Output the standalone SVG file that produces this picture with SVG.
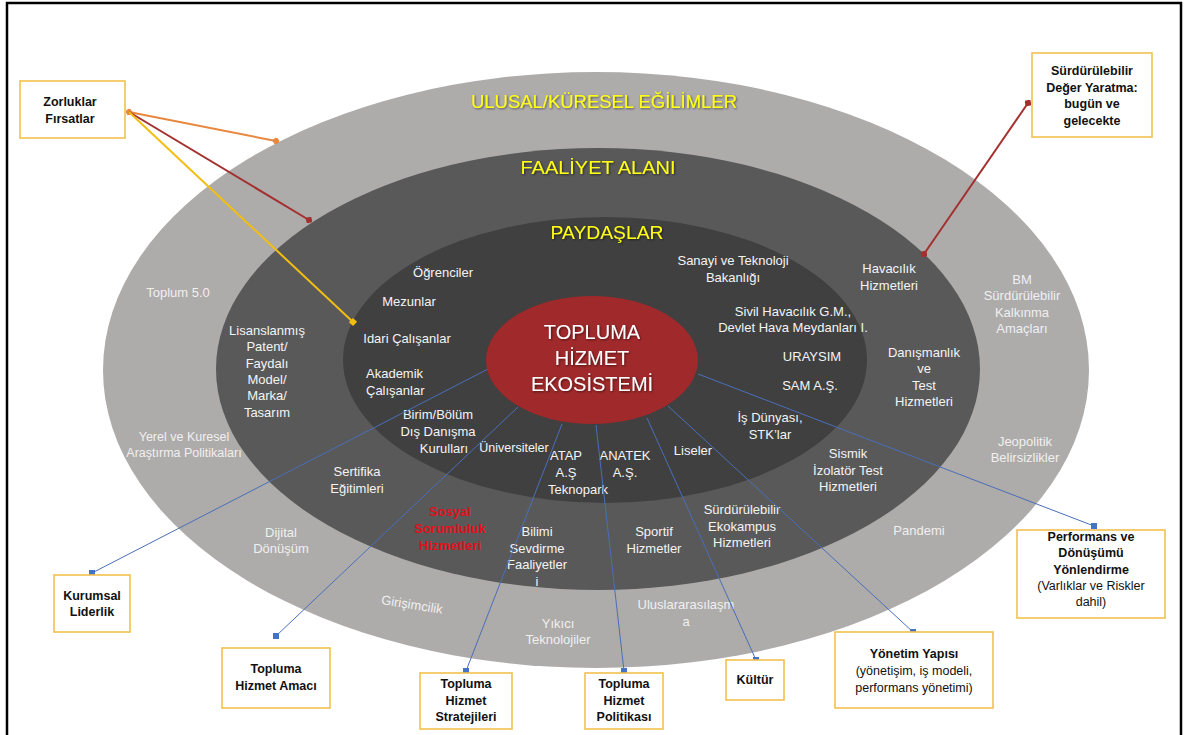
<svg xmlns="http://www.w3.org/2000/svg" width="1187" height="735" viewBox="0 0 1187 735">
<defs>
<style>
text{font-family:"Liberation Sans",Arial,sans-serif}
.lbl{font-size:13px;fill:#F4F4F4;text-anchor:middle}
.outl{font-size:13px;fill:#F0F0F0;text-anchor:middle}
.red{font-size:13px;fill:#E0101C;text-anchor:middle;font-weight:bold}
.ttl{font-size:19px;fill:#FFFF14;text-anchor:middle;filter:url(#sh)}
.ctr{font-size:20px;fill:#FFFFFF;text-anchor:middle;filter:url(#sh)}
.box{fill:#FFFFFF;stroke:#F2C14E;stroke-width:1.6}
.bt{font-size:12.5px;font-weight:bold;fill:#111111;text-anchor:middle}
.bn{font-size:12.5px;font-weight:normal;fill:#111111;text-anchor:middle}
.blue{stroke:#4A6FB8;stroke-width:1;fill:none;marker-end:url(#sqb)}
</style>
<filter id="sh" x="-10%" y="-30%" width="120%" height="160%">
<feDropShadow dx="1" dy="1" stdDeviation="0.8" flood-color="#000000" flood-opacity="0.55"/>
</filter>
<marker id="sqb" viewBox="0 0 6 6" refX="3" refY="3" markerWidth="6" markerHeight="6" markerUnits="userSpaceOnUse">
<rect x="0" y="0" width="6" height="6" fill="#4472C4"/>
</marker>
<marker id="dOr" viewBox="0 0 6 6" refX="3" refY="3" markerWidth="7" markerHeight="7" orient="auto" markerUnits="userSpaceOnUse">
<rect x="0.5" y="0.5" width="5" height="5" fill="#E8873E" transform="rotate(45 3 3)"/>
</marker>
<marker id="dRd" viewBox="0 0 6 6" refX="3" refY="3" markerWidth="7" markerHeight="7" orient="auto" markerUnits="userSpaceOnUse">
<rect x="0.5" y="0.5" width="5" height="5" fill="#A3302F" transform="rotate(45 3 3)"/>
</marker>
<marker id="dYl" viewBox="0 0 6 6" refX="3" refY="3" markerWidth="7" markerHeight="7" orient="auto" markerUnits="userSpaceOnUse">
<rect x="0.5" y="0.5" width="5" height="5" fill="#F2BE12"/>
</marker>
</defs>

<rect x="0" y="0" width="1187" height="735" fill="#FFFFFF"/>
<path d="M7,735 V3 H1181 V735" fill="none" stroke="#000000" stroke-width="2.5"/>

<g id="ring-outer">
<ellipse cx="596" cy="370" rx="493" ry="298" fill="#AEABAB"/>
<text class="ttl" x="604" y="108" textLength="266" lengthAdjust="spacingAndGlyphs">ULUSAL/KÜRESEL EĞİLİMLER</text>
<text class="outl" x="178" y="297">Toplum 5.0</text>
<text class="outl" x="184" y="441" style="font-size:12.5px"><tspan x="184">Yerel ve Kuresel</tspan><tspan x="184" dy="16">Araştırma Politikaları</tspan></text>
<text class="outl" x="281" y="537"><tspan x="281">Dijital</tspan><tspan x="281" dy="16">Dönüşüm</tspan></text>
<text class="outl" x="412" y="609" transform="rotate(9 412 605)">Girişimcilik</text>
<text class="outl" x="558" y="628"><tspan x="558">Yıkıcı</tspan><tspan x="558" dy="16">Teknolojiler</tspan></text>
<text class="outl" x="686" y="609"><tspan x="686">Uluslararasılaşm</tspan><tspan x="686" dy="17">a</tspan></text>
<text class="outl" x="919" y="535">Pandemi</text>
<text class="outl" x="1025" y="446"><tspan x="1025">Jeopolitik</tspan><tspan x="1025" dy="16">Belirsizlikler</tspan></text>
<text class="outl" x="1022" y="284"><tspan x="1022">BM</tspan><tspan x="1022" dy="16.3">Sürdürülebilir</tspan><tspan x="1022" dy="16.3">Kalkınma</tspan><tspan x="1022" dy="16.3">Amaçları</tspan></text>
</g>

<g id="ring-middle">
<ellipse cx="598" cy="369" rx="382" ry="221" fill="#595959"/>
<text class="ttl" x="598" y="174" textLength="155" lengthAdjust="spacingAndGlyphs">FAALİYET ALANI</text>
<text class="lbl" x="267" y="335"><tspan x="267">Lisanslanmış</tspan><tspan x="267" dy="16.3">Patent/</tspan><tspan x="267" dy="16.3">Faydalı</tspan><tspan x="267" dy="16.3">Model/</tspan><tspan x="267" dy="16.3">Marka/</tspan><tspan x="267" dy="16.3">Tasarım</tspan></text>
<text class="lbl" x="357" y="476"><tspan x="357">Sertifika</tspan><tspan x="357" dy="17">Eğitimleri</tspan></text>
<text class="red" x="450" y="516"><tspan x="450">Sosyal</tspan><tspan x="450" dy="17">Sorumluluk</tspan><tspan x="450" dy="17">Hizmetleri</tspan></text>
<text class="lbl" x="537" y="536"><tspan x="537">Bilimi</tspan><tspan x="537" dy="16.7">Sevdirme</tspan><tspan x="537" dy="16.7">Faaliyetler</tspan><tspan x="537" dy="16.7">i</tspan></text>
<text class="lbl" x="654" y="536"><tspan x="654">Sportif</tspan><tspan x="654" dy="17">Hizmetler</tspan></text>
<text class="lbl" x="742" y="514"><tspan x="742">Sürdürülebilir</tspan><tspan x="742" dy="16.5">Ekokampus</tspan><tspan x="742" dy="16.5">Hizmetleri</tspan></text>
<text class="lbl" x="848" y="458"><tspan x="848">Sismik</tspan><tspan x="848" dy="16.5">İzolatör Test</tspan><tspan x="848" dy="16.5">Hizmetleri</tspan></text>
<text class="lbl" x="924" y="357"><tspan x="924">Danışmanlık</tspan><tspan x="924" dy="16.3">ve</tspan><tspan x="924" dy="16.3">Test</tspan><tspan x="924" dy="16.3">Hizmetleri</tspan></text>
<text class="lbl" x="889" y="273"><tspan x="889">Havacılık</tspan><tspan x="889" dy="17">Hizmetleri</tspan></text>
</g>

<g id="ring-inner">
<ellipse cx="605" cy="360" rx="262" ry="143" fill="#404040"/>
<text class="ttl" x="607" y="239" textLength="113" lengthAdjust="spacingAndGlyphs">PAYDAŞLAR</text>
<text class="lbl" x="443" y="277">Öğrenciler</text>
<text class="lbl" x="409" y="306">Mezunlar</text>
<text class="lbl" x="407" y="343">Idari Çalışanlar</text>
<text class="lbl" x="366" y="378" style="text-anchor:start"><tspan x="366">Akademik</tspan><tspan x="366" dy="17">Çalışanlar</tspan></text>
<text class="lbl" x="438" y="419"><tspan x="438">Birim/Bölüm</tspan><tspan x="438" dy="17">Dış Danışma</tspan><tspan x="444" dy="17">Kurulları</tspan></text>
<text class="lbl" x="514" y="452" style="font-size:12.5px">Üniversiteler</text>
<text class="lbl" x="566" y="460"><tspan x="566">ATAP</tspan><tspan x="566" dy="17">A.Ş</tspan><tspan x="578" dy="17">Teknopark</tspan></text>
<text class="lbl" x="625" y="460"><tspan x="625">ANATEK</tspan><tspan x="625" dy="17">A.Ş.</tspan></text>
<text class="lbl" x="693" y="455">Liseler</text>
<text class="lbl" x="770" y="422"><tspan x="770">İş Dünyası,</tspan><tspan x="770" dy="17">STK’lar</tspan></text>
<text class="lbl" x="733" y="265"><tspan x="733">Sanayi ve Teknoloji</tspan><tspan x="733" dy="17">Bakanlığı</tspan></text>
<text class="lbl" x="793" y="316"><tspan x="793">Sivil Havacılık G.M.,</tspan><tspan x="793" dy="16">Devlet Hava Meydanları I.</tspan></text>
<text class="lbl" x="812" y="361">URAYSIM</text>
<text class="lbl" x="810" y="390">SAM A.Ş.</text>
</g>

<g id="connectors">
<line x1="129" y1="112" x2="276" y2="141" stroke="#E8873E" stroke-width="2" marker-start="url(#dOr)" marker-end="url(#dOr)"/>
<line x1="129" y1="112" x2="309" y2="220" stroke="#A3302F" stroke-width="2" marker-end="url(#dRd)"/>
<line x1="129" y1="112" x2="353" y2="322" stroke="#F2BE12" stroke-width="2" marker-end="url(#dYl)"/>
<line x1="1028" y1="103" x2="924" y2="254" stroke="#A3302F" stroke-width="2" marker-start="url(#dRd)" marker-end="url(#dRd)"/>
<line class="blue" x1="490" y1="368" x2="92" y2="573"/>
<line class="blue" x1="518" y1="407" x2="276" y2="636"/>
<line class="blue" x1="562" y1="424" x2="466" y2="671"/>
<line class="blue" x1="596" y1="425" x2="624" y2="671"/>
<line class="blue" x1="647" y1="418" x2="756" y2="660"/>
<line class="blue" x1="668" y1="406" x2="913" y2="632"/>
<line class="blue" x1="698" y1="374" x2="1094" y2="526"/>
</g>

<g id="center">
<ellipse cx="592" cy="360" rx="106" ry="64" fill="#A0292B"/>
<text class="ctr" x="592" y="339">TOPLUMA</text>
<text class="ctr" x="592" y="365">HİZMET</text>
<text class="ctr" x="592" y="391">EKOSİSTEMİ</text>
</g>

<g id="zorluklar">
<rect class="box" x="20" y="81" width="105" height="57"/>
<text class="bt" x="70" y="106"><tspan x="70">Zorluklar</tspan><tspan x="70" dy="17">Fırsatlar</tspan></text>
</g>
<g id="deger">
<rect class="box" x="1032" y="53" width="120" height="84"/>
<text class="bt" x="1092" y="75"><tspan x="1092">Sürdürülebilir</tspan><tspan x="1092" dy="16.7">Değer Yaratma:</tspan><tspan x="1092" dy="16.7">bugün ve</tspan><tspan x="1092" dy="16.7">gelecekte</tspan></text>
</g>
<g id="kurumsal">
<rect class="box" x="54" y="575" width="76" height="57"/>
<text class="bt" x="92" y="600"><tspan x="92">Kurumsal</tspan><tspan x="92" dy="16">Liderlik</tspan></text>
</g>
<g id="amac">
<rect class="box" x="222" y="648" width="108" height="60"/>
<text class="bt" x="276" y="673"><tspan x="276">Topluma</tspan><tspan x="276" dy="17">Hizmet Amacı</tspan></text>
</g>
<g id="stratejiler">
<rect class="box" x="420" y="673" width="92" height="56"/>
<text class="bt" x="466" y="688"><tspan x="466">Topluma</tspan><tspan x="466" dy="16.5">Hizmet</tspan><tspan x="466" dy="16.5">Stratejileri</tspan></text>
</g>
<g id="politika">
<rect class="box" x="585" y="673" width="78" height="56"/>
<text class="bt" x="624" y="688"><tspan x="624">Topluma</tspan><tspan x="624" dy="16.5">Hizmet</tspan><tspan x="624" dy="16.5">Politikası</tspan></text>
</g>
<g id="kultur">
<rect class="box" x="726" y="660" width="58" height="40"/>
<text class="bt" x="755" y="684">Kültür</text>
</g>
<g id="yonetim">
<rect class="box" x="835" y="632" width="158" height="76"/>
<text class="bt" x="914" y="658">Yönetim Yapısı</text>
<text class="bn" x="914" y="675"><tspan x="914">(yönetişim, iş modeli,</tspan><tspan x="914" dy="17">performans yönetimi)</tspan></text>
</g>
<g id="performans">
<rect class="box" x="1017" y="530" width="148" height="88"/>
<text class="bt" x="1091" y="541"><tspan x="1091">Performans ve</tspan><tspan x="1091" dy="16.3">Dönüşümü</tspan><tspan x="1091" dy="16.3">Yönlendirme</tspan></text>
<text class="bn" x="1091" y="590"><tspan x="1091">(Varlıklar ve Riskler</tspan><tspan x="1091" dy="16.3">dahil)</tspan></text>
</g>
</svg>
